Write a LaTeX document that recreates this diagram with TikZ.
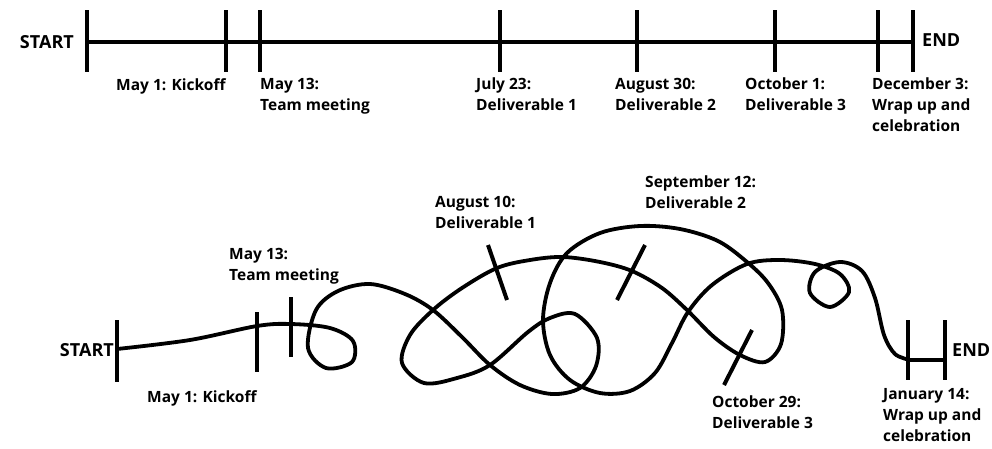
\documentclass[tikz,border=0pt]{standalone}
\usepackage{fontspec}
\setmainfont{Open Sans}
\usetikzlibrary{positioning}

\begin{document}
\begin{tikzpicture}[x=1pt,y=-1pt,
  lbl/.style={anchor=north west, inner sep=0pt, align=left, font=\fontsize{15.5}{21}\selectfont\bfseries},
  endlbl/.style={inner sep=0pt, font=\fontsize{18}{21}\selectfont\bfseries},
  tick/.style={line width=4pt},
  wiggle/.style={line width=3.8pt, line cap=round}]
\useasboundingbox (0,0) rectangle (992,448);
% plan as it was drawn
\coordinate (ts) at (87,42);
\coordinate (te) at (913,42);
\draw[line width=3.4pt] (ts) -- (te);
\foreach \x in {87,226,260,500,637,775,878,913}
  \draw[tick] (\x,10) -- (\x,72);
\node[endlbl, anchor=east] (start1) at (74,42) {START};
\node[endlbl, anchor=west] (end1) at (922,40) {END};
\node[lbl] (kick1) at (116,78) {May 1: Kickoff};
\node[lbl] (meet1) at (260,78) {May 13:\\Team meeting};
\node[lbl] (del11) at (476,78) {July 23:\\Deliverable 1};
\node[lbl] (del21) at (615,78) {August 30:\\Deliverable 2};
\node[lbl] (del31) at (745,78) {October 1:\\Deliverable 3};
\node[lbl] (wrap1) at (872,78) {December 3:\\Wrap up and\\celebration};
% plan as it happened
\draw[wiggle] plot[smooth, tension=0.55] coordinates {
  (117,349) (190,340) (257,326) (291,324) (330,328) (353,341) (352,362) (326,368)
  (308,348) (316,310) (338,291) (370,284) (405,294) (433,310) (462,337) (490,365)
  (520,385) (552,394) (580,388) (596,366) (597,338) (575,314) (550,318) (528,332)
  (490,365) (457,378) (424,383) (402,363) (410,335) (433,310) (462,288) (497,268)
  (530,260) (563,257) (600,262) (632,271) (662,288) (687,310) (714,337) (740,355)
  (765,362) (781,344) (782,310) (768,283) (747,262) (718,241) (680,229) (640,226)
  (600,233) (567,253) (550,283) (543,320) (550,355) (570,380) (600,393) (630,391)
  (655,373) (672,343) (688,312) (712,285) (747,264) (780,260) (815,264) (840,274)
  (849,292) (830,307) (810,293) (815,272) (840,262) (862,271) (875,298) (884,335)
  (895,354) (910,360)};
\draw[tick] (117,320) -- (117,382);
\draw[tick] (257,312) -- (257,372);
\draw[tick] (291,297) -- (291,357);
\draw[tick] (488,245) -- (507,300);
\draw[tick] (645,245) -- (617,300);
\draw[tick] (752,330) -- (724,385);
\coordinate (ea) at (908,360);
\coordinate (eb) at (945,360);
\draw[tick] (908,320) -- (908,380);
\draw[tick] (945,320) -- (945,380);
\draw[line width=3.8pt] (ea) -- (eb);
\node[endlbl, anchor=east] (start2) at (114,350) {START};
\node[endlbl, anchor=west] (end2) at (952,350) {END};
\node[lbl] (kick2) at (147,390) {May 1: Kickoff};
\node[lbl] (meet2) at (229,248) {May 13:\\Team meeting};
\node[lbl] (del12) at (435,196) {August 10:\\Deliverable 1};
\node[lbl] (del22) at (645,176) {September 12:\\Deliverable 2};
\node[lbl] (del32) at (712,396) {October 29:\\Deliverable 3};
\node[lbl] (wrap2) at (883,388) {January 14:\\Wrap up and\\celebration};
\end{tikzpicture}
\end{document}
